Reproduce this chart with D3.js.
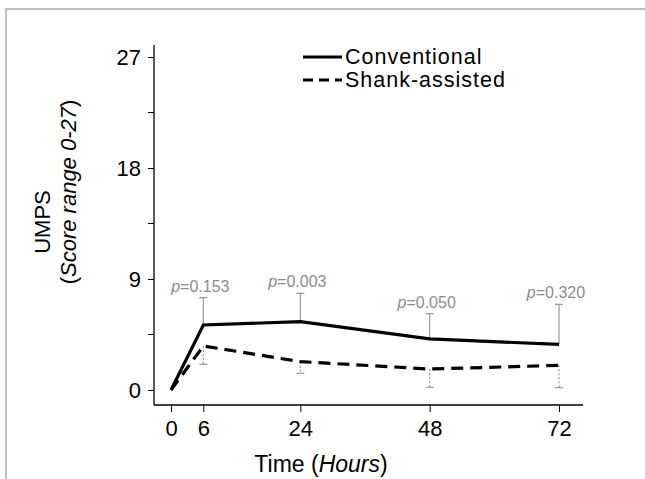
<!DOCTYPE html>
<html><head><meta charset="utf-8">
<script src="https://cdn.jsdelivr.net/npm/d3@7"></script>
<style>body{margin:0;background:#fff}svg{display:block}text{font-family:"Liberation Sans",Arial,sans-serif}</style>
</head><body>
<svg id="c" width="645" height="479"></svg>
<script>
const hours = [0, 6, 24, 48, 72];
const conventional = [0, 5.27, 5.54, 4.14, 3.7];
const shank = [0, 3.57, 2.3, 1.7, 2.0];
const convUpper = [null, 7.49, 7.84, 6.2, 6.95];
const shankLower = [null, 2.08, 1.35, 0.22, 0.19];
const pLabels = ["", "0.153", "0.003", "0.050", "0.320"];
const yTicks = [0, 9, 18, 27];
const yMinor = [4.5, 13.5, 22.5];
const xTicks = [0, 6, 24, 48, 72];
const seriesNames = ["Conventional", "Shank-assisted"];

const svg = d3.select("#c");
const x = d3.scaleLinear().domain([0, 72]).range([171, 559]);
const y = d3.scaleLinear().domain([0, 27]).range([390, 57]);
const axisX0 = 154, axisY0 = 405, axisXEnd = 583, axisYTop = 45;

// frame
svg.append("path").attr("d", `M6,479 V9 H645`).attr("fill","none").attr("stroke","#aaa").attr("stroke-width",1.5);

// axes
const ya = svg.append("g").attr("transform",`translate(${axisX0},0)`)
  .call(d3.axisLeft(y).tickValues(yTicks).tickSize(6).tickPadding(7).tickFormat(d3.format("d")));
ya.select(".domain").remove();
ya.selectAll(".minor").data(yMinor).join("line").attr("x1",-6).attr("x2",0)
  .attr("y1",d=>y(d)).attr("y2",d=>y(d)).attr("stroke","#000");
ya.selectAll("text").attr("font-size",22).attr("fill","#000");
svg.append("line").attr("x1",axisX0).attr("x2",axisX0).attr("y1",axisYTop).attr("y2",axisY0).attr("stroke","#000").attr("stroke-width",1.3);

const xa = svg.append("g").attr("transform",`translate(0,${axisY0})`)
  .call(d3.axisBottom(x).tickValues(xTicks).tickSize(7).tickPadding(8).tickFormat(d3.format("d")));
xa.select(".domain").remove();
xa.selectAll("text").attr("font-size",22).attr("fill","#000");
svg.append("line").attr("x1",axisX0).attr("x2",axisXEnd).attr("y1",axisY0).attr("y2",axisY0).attr("stroke","#000").attr("stroke-width",1.3);

// error bars
const idx = d3.range(1, hours.length);
svg.selectAll(".eu").data(idx).join("path")
  .attr("d", i => `M${x(hours[i])},${y(conventional[i])}V${y(convUpper[i])}M${x(hours[i])-4},${y(convUpper[i])}H${x(hours[i])+4}`)
  .attr("stroke","#999").attr("stroke-width",1.2).attr("fill","none");
svg.selectAll(".el").data(idx).join("path")
  .attr("d", i => `M${x(hours[i])},${y(shank[i])}V${y(shankLower[i])}`)
  .attr("stroke","#999").attr("stroke-width",1.2).attr("stroke-dasharray","2,2").attr("fill","none");
svg.selectAll(".elc").data(idx).join("path")
  .attr("d", i => `M${x(hours[i])-4},${y(shankLower[i])}H${x(hours[i])+4}`)
  .attr("stroke","#999").attr("stroke-width",1.2).attr("fill","none");

// lines
const line = d3.line().x((d,i)=>x(hours[i])).y(d=>y(d));
svg.append("path").datum(conventional).attr("d",line).attr("fill","none").attr("stroke","#000").attr("stroke-width",3.2);
svg.append("path").datum(shank).attr("d",line).attr("fill","none").attr("stroke","#000").attr("stroke-width",3.2).attr("stroke-dasharray","12,7");

// p labels
const pl = svg.selectAll(".pl").data(idx).join("text")
  .attr("x", i => x(hours[i]) - 3).attr("y", i => y(convUpper[i]) - 6)
  .attr("text-anchor","middle").attr("font-size",16).attr("fill","#8c8c8c");
pl.append("tspan").attr("font-style","italic").text("p");
pl.append("tspan").text(i => "=" + pLabels[i]);

// legend
const dashes = [null, "10,6"];
seriesNames.forEach((name,k)=>{
  const yy = 57 + k*23;
  svg.append("line").attr("x1",303).attr("x2",342).attr("y1",yy).attr("y2",yy)
    .attr("stroke","#000").attr("stroke-width",3.2).attr("stroke-dasharray",dashes[k]);
  svg.append("text").attr("x",345).attr("y",yy+7).attr("font-size",21.5).attr("letter-spacing",1).text(name);
});

// axis titles
const xt = svg.append("text").attr("x",321).attr("y",472).attr("text-anchor","middle").attr("font-size",23);
xt.append("tspan").text("Time (");
xt.append("tspan").attr("font-style","italic").text("Hours");
xt.append("tspan").text(")");

svg.append("text").attr("transform","translate(50,222) rotate(-90)").attr("text-anchor","middle").attr("font-size",22).text("UMPS");
const yt = svg.append("text").attr("transform","translate(76,192) rotate(-90)").attr("text-anchor","middle").attr("font-size",22);
yt.append("tspan").text("(");
yt.append("tspan").attr("font-style","italic").text("Score range 0-27");
yt.append("tspan").text(")");
</script>
</body></html>
